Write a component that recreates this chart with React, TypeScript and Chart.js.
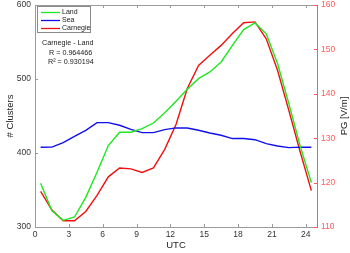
import React, { useEffect, useRef } from "react";
import { Chart, registerables } from "chart.js";

Chart.register(...registerables);

const hours = [0.5, 1.5, 2.5, 3.5, 4.5, 5.5, 6.5, 7.5, 8.5, 9.5, 10.5, 11.5, 12.5, 13.5, 14.5, 15.5, 16.5, 17.5, 18.5, 19.5, 20.5, 21.5, 22.5, 23.5, 24.5];
const landValues = [359, 322, 309, 313.5, 340, 374, 410, 428, 428, 433, 440.5, 454.5, 470, 486, 500.5, 509.5, 523, 545.5, 566.7, 575.7, 561, 521, 467, 410, 360];
const seaValues = [407.7, 408, 414, 422.6, 430.7, 441, 441, 437.5, 432, 427.5, 427.5, 431.6, 434, 433.8, 430.7, 427, 424, 419.5, 419.5, 418, 412.7, 409.5, 407.3, 408, 407.7];
const carnegieValues = [118.0, 113.8, 111.4, 111.4, 113.5, 117.1, 121.3, 123.3, 123.1, 122.3, 123.3, 127.5, 133.1, 141.2, 146.4, 148.7, 150.9, 153.6, 156, 156.2, 152.4, 145.3, 136.3, 127, 118.2];
const xTickValues = [0, 3, 6, 9, 12, 15, 18, 21, 24];
const leftTickValues = [300, 400, 500, 600];
const rightTickValues = [110, 120, 130, 140, 150, 160];
const seriesNames = ["Land", "Sea", "Carnegie"];
const annotationLines = ["Carnegie - Land", "R = 0.964466", "R\u00B2 = 0.930194"];

const FONT = "'Liberation Sans', Arial, sans-serif";
const GREEN = "#1ee81e";
const BLUE = "#1010ee";
const RED = "#f01010";
const RIGHT_COLOR = "#ff5a5a";
const AXIS_GRAY = "#9a9a9a";

const decorPlugin = {
  id: "decor",
  beforeDatasetsDraw(chart: any) {
    const { ctx, chartArea } = chart;
    const { left, right, top, bottom } = chartArea;
    const sx = chart.scales.x;
    const sy = chart.scales.y;
    const sy2 = chart.scales.y2;
    ctx.save();
    ctx.lineWidth = 1;
    ctx.strokeStyle = AXIS_GRAY;
    ctx.beginPath();
    ctx.moveTo(left + 0.5, top + 0.5);
    ctx.lineTo(right + 0.5, top + 0.5);
    ctx.moveTo(left + 0.5, top + 0.5);
    ctx.lineTo(left + 0.5, bottom + 0.5);
    ctx.lineTo(right + 0.5, bottom + 0.5);
    ctx.stroke();
    const tl = 3;
    ctx.beginPath();
    xTickValues.forEach((v) => {
      const px = Math.round(sx.getPixelForValue(v)) + 0.5;
      ctx.moveTo(px, bottom);
      ctx.lineTo(px, bottom - tl);
      ctx.moveTo(px, top);
      ctx.lineTo(px, top + tl);
    });
    leftTickValues.forEach((v) => {
      const py = Math.round(sy.getPixelForValue(v)) + 0.5;
      ctx.moveTo(left, py);
      ctx.lineTo(left + tl, py);
    });
    ctx.stroke();
    ctx.strokeStyle = RIGHT_COLOR;
    ctx.beginPath();
    ctx.moveTo(right + 0.5, top);
    ctx.lineTo(right + 0.5, bottom + 1);
    rightTickValues.forEach((v) => {
      const py = Math.round(sy2.getPixelForValue(v)) + 0.5;
      ctx.moveTo(right, py);
      ctx.lineTo(right - tl, py);
    });
    ctx.stroke();
    ctx.restore();
  },
  afterDraw(chart: any) {
    const { ctx, chartArea } = chart;
    const { left, right, top, bottom } = chartArea;
    ctx.save();
    ctx.fillStyle = "#222";
    ctx.font = `9.5px ${FONT}`;
    ctx.textAlign = "center";
    ctx.textBaseline = "middle";
    ctx.fillText("UTC", (left + right) / 2, 245);
    ctx.save();
    ctx.translate(10, (top + bottom) / 2);
    ctx.rotate(-Math.PI / 2);
    ctx.fillText("# Clusters", 0, 0);
    ctx.restore();
    ctx.save();
    ctx.translate(344, (top + bottom) / 2);
    ctx.rotate(-Math.PI / 2);
    ctx.fillText("PG [V/m]", 0, 0);
    ctx.restore();

    const lx = left + 2;
    const ly = top + 1;
    const lw = 53;
    const lh = 26;
    ctx.fillStyle = "#fff";
    ctx.fillRect(lx, ly, lw, lh);
    ctx.strokeStyle = "#888";
    ctx.lineWidth = 1;
    ctx.strokeRect(lx + 0.5, ly + 0.5, lw, lh);
    const colors = [GREEN, BLUE, RED];
    ctx.font = `7px ${FONT}`;
    ctx.textAlign = "left";
    ctx.textBaseline = "middle";
    seriesNames.forEach((name, i) => {
      const yy = ly + 6.5 + i * 8;
      ctx.strokeStyle = colors[i];
      ctx.lineWidth = 1.3;
      ctx.beginPath();
      ctx.moveTo(lx + 4, yy);
      ctx.lineTo(lx + 23, yy);
      ctx.stroke();
      ctx.fillStyle = "#222";
      ctx.fillText(name, lx + 25, yy);
    });

    ctx.fillStyle = "#222";
    ctx.font = `7.2px ${FONT}`;
    ctx.fillText(annotationLines[0], left + 7, 43.5);
    ctx.fillText(annotationLines[1], left + 14, 53);
    ctx.fillText(annotationLines[2], left + 13, 62.5);
    ctx.restore();
  },
};

export default function App() {
  const canvasRef = useRef<HTMLCanvasElement | null>(null);

  useEffect(() => {
    const canvas = canvasRef.current;
    if (!canvas) return;
    const toPoints = (vals: number[]) => vals.map((v, i) => ({ x: hours[i], y: v }));
    const chart = new Chart(canvas, {
      type: "line",
      data: {
        datasets: [
          { label: seriesNames[0], data: toPoints(landValues), borderColor: GREEN, borderWidth: 1.4, pointRadius: 0, yAxisID: "y", tension: 0 },
          { label: seriesNames[1], data: toPoints(seaValues), borderColor: BLUE, borderWidth: 1.4, pointRadius: 0, yAxisID: "y", tension: 0 },
          { label: seriesNames[2], data: toPoints(carnegieValues), borderColor: RED, borderWidth: 1.4, pointRadius: 0, yAxisID: "y2", tension: 0 },
        ],
      },
      options: {
        responsive: false,
        animation: false,
        devicePixelRatio: 1,
        layout: { padding: { top: 5, left: 0, right: 0, bottom: 0 } },
        plugins: {
          legend: { display: false },
          tooltip: { enabled: false },
        },
        scales: {
          x: {
            type: "linear",
            min: 0,
            max: 25,
            grid: { display: false, drawTicks: false },
            border: { display: false },
            afterBuildTicks: (scale: any) => {
              scale.ticks = xTickValues.map((v) => ({ value: v }));
            },
            afterFit: (scale: any) => {
              scale.height = 26;
              scale.paddingLeft = 0;
              scale.paddingRight = 0;
            },
            ticks: { color: "#333", font: { family: FONT, size: 8.5 }, padding: 3, maxRotation: 0 },
          },
          y: {
            type: "linear",
            position: "left",
            min: 300,
            max: 600,
            grid: { display: false, drawTicks: false },
            border: { display: false },
            afterBuildTicks: (scale: any) => {
              scale.ticks = leftTickValues.map((v) => ({ value: v }));
            },
            afterFit: (scale: any) => {
              scale.width = 35;
              scale.paddingTop = 0;
              scale.paddingBottom = 0;
            },
            ticks: { color: "#333", font: { family: FONT, size: 8.5 }, padding: 4 },
          },
          y2: {
            type: "linear",
            position: "right",
            min: 110,
            max: 160,
            grid: { display: false, drawTicks: false },
            border: { display: false },
            afterBuildTicks: (scale: any) => {
              scale.ticks = rightTickValues.map((v) => ({ value: v }));
            },
            afterFit: (scale: any) => {
              scale.width = 33;
              scale.paddingTop = 0;
              scale.paddingBottom = 0;
            },
            ticks: { color: RIGHT_COLOR, font: { family: FONT, size: 8.5 }, padding: 4 },
          },
        },
      },
      plugins: [decorPlugin],
    });
    return () => chart.destroy();
  }, []);

  return (
    <div style={{ position: "absolute", left: 0, top: 0, width: 350, height: 253, background: "#fff" }}>
      <canvas ref={canvasRef} width={350} height={253} style={{ width: 350, height: 253, display: "block" }} />
    </div>
  );
}
